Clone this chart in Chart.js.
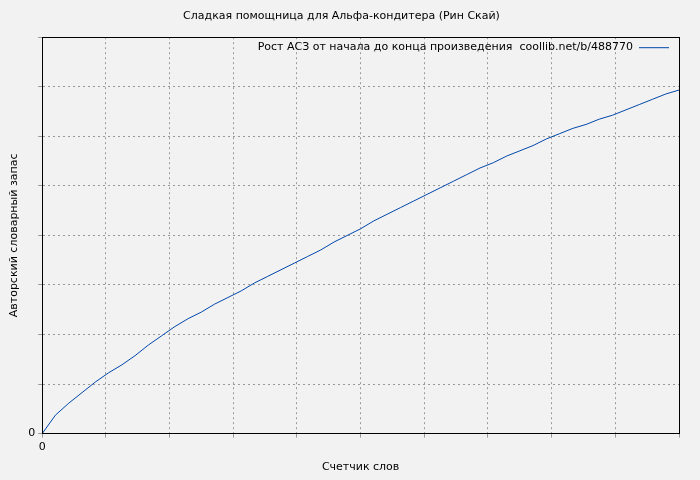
<!DOCTYPE html>
<html><head><meta charset="utf-8">
<script src="https://cdn.jsdelivr.net/npm/chart.js@4"></script>
<style>html,body{margin:0;background:#f2f2f2}#w{width:700px;height:480px}</style>
</head><body><div id="w"><canvas id="c"></canvas></div>
<script>
const title = "Сладкая помощница для Альфа-кондитера (Рин Скай)";
const seriesLabel = "Рост АСЗ от начала до конца произведения  coollib.net/b/488770";
const xTitle = "Счетчик слов";
const yTitle = "Авторский словарный запас";
const words = [0,1000,2000,3000,4000,5000,6000,7000,8000,9000,10000,11000,12000,13000,14000,15000,16000,17000,18000,19000,20000,21000,22000,23000,24000,25000,26000,27000,28000,29000,30000,31000,32000,33000,34000,35000,36000,37000,38000,39000,40000,41000,42000,43000,44000,45000,46000,47000,48000];
const vocab = [0,700,1150,1550,1950,2300,2600,2950,3350,3700,4050,4350,4600,4900,5150,5400,5700,5950,6200,6450,6700,6950,7250,7500,7750,8050,8300,8550,8800,9050,9300,9550,9800,10050,10250,10500,10700,10900,11150,11350,11550,11700,11900,12050,12250,12450,12650,12850,13000];
const F = "'DejaVu Sans', sans-serif";
const legendPlugin = {id:'lg', afterDraw(ch){
  const a=ch.chartArea, c=ch.ctx; c.save();
  c.strokeStyle="#000"; c.lineWidth=1; c.strokeRect(Math.round(a.left)+0.5,Math.round(a.top)+0.5,Math.round(a.right-a.left),Math.round(a.bottom-a.top));
  c.font="11px "+F; c.fillStyle="#000"; c.textAlign="right"; c.textBaseline="middle";
  c.fillText(seriesLabel, a.right-46, a.top+10);
  c.strokeStyle="#0047ab"; c.beginPath(); c.moveTo(a.right-40,a.top+10.5); c.lineTo(a.right-10,a.top+10.5); c.stroke();
  c.restore();}};
const bg = {id:'bg', beforeDraw(ch){const c=ch.ctx;c.save();c.fillStyle='#f2f2f2';c.fillRect(0,0,ch.width,ch.height);c.restore();}};
new Chart(document.getElementById('c'),{
  type:'line',
  data:{datasets:[{label:seriesLabel,data:words.map((x,i)=>({x,y:vocab[i]})),borderColor:'#0047ab',borderWidth:1,pointRadius:0,tension:0}]},
  options:{responsive:true,maintainAspectRatio:false,animation:false,
    layout:{padding:{top:6,right:21,left:4,bottom:2}},
    plugins:{legend:{display:false},tooltip:{enabled:false},
      title:{display:true,text:title,font:{family:F,size:11,weight:'normal'},color:'#000',padding:{top:4,bottom:14}}},
    scales:{
      x:{type:'linear',min:0,max:48000,
        ticks:{stepSize:5000,autoSkip:false,maxRotation:0,font:{family:F,size:11},color:'#000',
          callback:v=>v%5000===0?String(v):''},
        grid:{color:'#999',tickLength:4},
        border:{color:'#000',dash:[2,3]},
        title:{display:true,text:xTitle,font:{family:F,size:11},color:'#000'}},
      y:{min:0,max:15000,
        ticks:{stepSize:2000,font:{family:F,size:11},color:'#000',callback:v=>v%2000===0?String(v):''},
        grid:{color:'#999',tickLength:4},
        border:{color:'#000',dash:[2,3]},
        title:{display:true,text:yTitle,font:{family:F,size:11},color:'#000'}}
    }},
  plugins:[bg,legendPlugin]
});
</script></body></html>
